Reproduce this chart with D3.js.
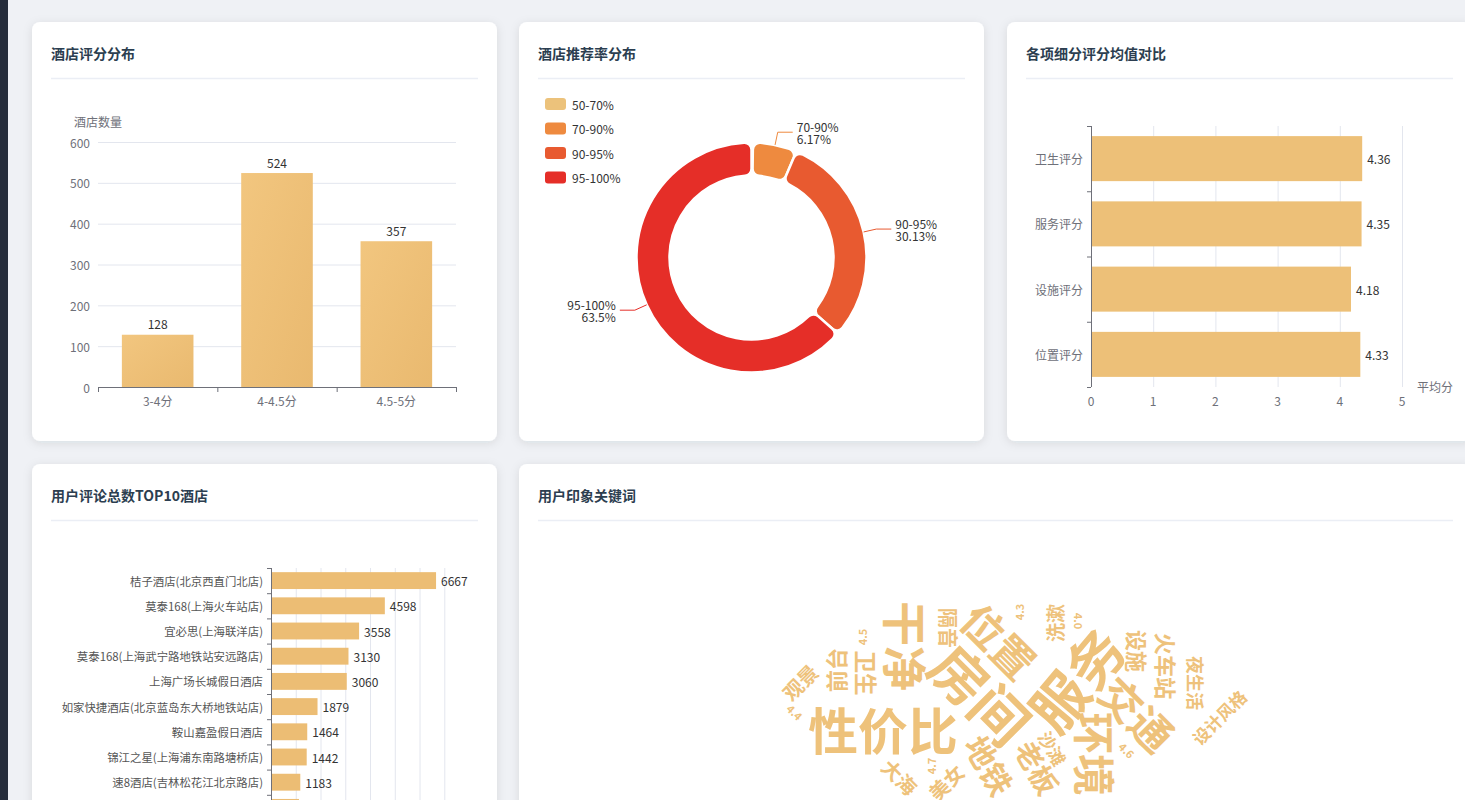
<!DOCTYPE html>
<html><head><meta charset="utf-8">
<script src="https://cdn.jsdelivr.net/npm/d3@7"></script>
<style>
html,body{margin:0;padding:0;background:#eff1f5;overflow:hidden;}
svg{display:block;font-family:"Noto Sans CJK SC","Noto Sans",sans-serif;}
</style></head>
<body><svg id="c" width="1465" height="800"></svg>
<script>
// ---------- data ----------
const scoreCats = ['3-4分','4-4.5分','4.5-5分'];
const scoreCounts = [128, 524, 357];
const scoreTicks = [0,100,200,300,400,500,600];

const recCats = ['50-70%','70-90%','90-95%','95-100%'];
const recPercents = [0.2, 6.17, 30.13, 63.5];
const recColors = ['#ecc27b','#ee8a3f','#e85a30','#e52e28'];

const subCats = ['卫生评分','服务评分','设施评分','位置评分'];
const subMeans = [4.36, 4.35, 4.18, 4.33];
const subTicks = [0,1,2,3,4,5];

const topHotels = ['桔子酒店(北京西直门北店)','莫泰168(上海火车站店)','宜必思(上海联洋店)','莫泰168(上海武宁路地铁站安远路店)','上海广场长城假日酒店','如家快捷酒店(北京蓝岛东大桥地铁站店)','鞍山嘉盈假日酒店','锦江之星(上海浦东南路塘桥店)','速8酒店(吉林松花江北京路店)','第10名酒店'];
const topReviews = [6667, 4598, 3558, 3130, 3060, 1879, 1464, 1442, 1183, 1130];
const topTicks = [0,1000,2000,3000,4000,5000,6000,7000];

const cloudWords = ['房间','服务','性价比','干净','位置','交通','环境','地铁','老板','卫生','前台','火车站','设施','隔音','观景','大海','美女','洗漱','沙滩','夜生活','设计风格','4.0','4.3','4.4','4.5','4.6','4.7'];
const cloudWeights = [300,300,260,230,210,210,210,140,120,85,82,82,75,68,68,68,68,62,55,55,49,10,10,10,10,10,10];
// word-cloud layout result (offset from cloud centre, rotation)
const cloudLayout = [
 [-28,-7,45],[65,-22,-50],[-127,28,0],[-104,-54,90],[-10,-60,45],[128,13,45],[86,54,90],
 [-20,65,60],[28,67,60],[-144,-27,90],[-175,-30,-90],[157,-34,90],[127,-49,90],[-62,-72,90],
 [-210,-18,-45],[-110,77,45],[-64,82,-45],[44,-77,-90],[43,48,60],[186,-17,90],[209,17,-45],
 [69,-79,90],[9,-88,-90],[-215,12,45],[-148,-63,-90],[117,50,45],[-79,66,-90]
];

// ---------- page ----------
const svg = d3.select('#c');
const defs = svg.append('defs');
const f = defs.append('filter').attr('id','sh').attr('x','-10%').attr('y','-10%').attr('width','120%').attr('height','120%');
f.append('feDropShadow').attr('dx',0).attr('dy',2).attr('stdDeviation',5).attr('flood-color','#1f2d3d').attr('flood-opacity',0.10);
const g1 = defs.append('linearGradient').attr('id','barG').attr('x1','0').attr('y1','0').attr('x2','1').attr('y2','1');
g1.append('stop').attr('offset','0%').attr('stop-color','#f2c67f');
g1.append('stop').attr('offset','100%').attr('stop-color','#e9b96f');

svg.append('rect').attr('width',1465).attr('height',800).attr('fill','#eff1f5');
svg.append('rect').attr('width',8).attr('height',800).attr('fill','#262d3b');

const cards = [
 {x:32,y:22,w:465,h:419,t:'酒店评分分布'},
 {x:519,y:22,w:465,h:419,t:'酒店推荐率分布'},
 {x:1007,y:22,w:465,h:419,t:'各项细分评分均值对比'},
 {x:32,y:464,w:465,h:420,t:'用户评论总数TOP10酒店'},
 {x:519,y:464,w:953,h:420,t:'用户印象关键词'}
];
cards.forEach(c=>{
  svg.append('rect').attr('x',c.x).attr('y',c.y).attr('width',c.w).attr('height',c.h)
    .attr('rx',8).attr('fill','#fff').attr('filter','url(#sh)');
  svg.append('text').attr('x',c.x+19).attr('y',c.y+31).attr('dominant-baseline','central')
    .attr('font-size',14).attr('font-weight',700).attr('fill','#2c3e50').text(c.t);
  svg.append('line').attr('x1',c.x+19).attr('x2',c.x+c.w-19).attr('y1',c.y+56.5).attr('y2',c.y+56.5)
    .attr('stroke','#ebeef5').attr('stroke-width',1.5);
});
const axisCol = '#6e7079', gridCol = '#e3e6ee';

// ---------- chart 1 ----------
(function(){
  const g = svg.append('g');
  const x = d3.scaleBand().domain(scoreCats).range([98,456]);
  const y = d3.scaleLinear().domain([0,600]).range([387,142]);
  g.selectAll('.gl').data(scoreTicks.slice(1)).join('line')
    .attr('x1',98).attr('x2',456).attr('y1',d=>y(d)+0.5).attr('y2',d=>y(d)+0.5).attr('stroke',gridCol);
  g.selectAll('.yl').data(scoreTicks).join('text').attr('x',90).attr('y',d=>y(d))
    .attr('text-anchor','end').attr('dominant-baseline','central').attr('font-size',12).attr('fill',axisCol).text(d=>d);
  const bw = x.bandwidth()*0.6;
  g.selectAll('.b').data(scoreCats).join('rect').attr('x',d=>x(d)+(x.bandwidth()-bw)/2).attr('width',bw)
    .attr('y',(d,i)=>y(scoreCounts[i])).attr('height',(d,i)=>y(0)-y(scoreCounts[i])).attr('fill','url(#barG)');
  g.selectAll('.v').data(scoreCats).join('text').attr('x',d=>x(d)+x.bandwidth()/2).attr('y',(d,i)=>y(scoreCounts[i])-11)
    .attr('text-anchor','middle').attr('dominant-baseline','central').attr('font-size',12).attr('fill','#333')
    .text((d,i)=>scoreCounts[i]);
  g.append('line').attr('x1',98).attr('x2',456).attr('y1',387.5).attr('y2',387.5).attr('stroke',axisCol);
  const bounds = scoreCats.map(d=>x(d)).concat([456]);
  g.selectAll('.tk').data(bounds).join('line').attr('x1',d=>d+0.5).attr('x2',d=>d+0.5).attr('y1',387).attr('y2',392).attr('stroke',axisCol);
  g.selectAll('.xl').data(scoreCats).join('text').attr('x',d=>x(d)+x.bandwidth()/2).attr('y',400)
    .attr('text-anchor','middle').attr('dominant-baseline','central').attr('font-size',12).attr('fill',axisCol).text(d=>d);
  g.append('text').attr('x',98).attr('y',121).attr('text-anchor','middle').attr('dominant-baseline','central')
    .attr('font-size',12).attr('fill',axisCol).text('酒店数量');
})();

// ---------- chart 2 ----------
(function(){
  const g = svg.append('g');
  const cx = 751.5, cy = 257.5, r0 = 82, r1 = 115;
  recCats.forEach((c,i)=>{
    g.append('rect').attr('x',545).attr('y',98+i*24.5).attr('width',21).attr('height',12).attr('rx',3).attr('fill',recColors[i]);
    g.append('text').attr('x',572).attr('y',104+i*24.5).attr('dominant-baseline','central').attr('font-size',12).attr('fill','#333').text(c);
  });
  const pie = d3.pie().sort(null).value(d=>d)(recPercents);
  const arc = d3.arc().innerRadius(r0).outerRadius(r1).cornerRadius(7);
  const pg = g.append('g').attr('transform',`translate(${cx},${cy})`);
  pg.selectAll('path').data(pie).join('path').attr('d',arc).attr('fill',(d,i)=>recColors[i])
    .attr('stroke','#fff').attr('stroke-width',2.5);
  pie.forEach((d,i)=>{
    if (recPercents[i] < 1) return;
    const a = (d.startAngle+d.endAngle)/2;
    const p0 = [Math.sin(a)*r1, -Math.cos(a)*r1];
    const p1 = [Math.sin(a)*(r1+13), -Math.cos(a)*(r1+13)];
    const right = Math.sin(a) >= 0;
    const p2 = [p1[0] + (right?15:-15), p1[1]];
    pg.append('polyline').attr('points',[p0,p1,p2].map(p=>p.join(',')).join(' '))
      .attr('fill','none').attr('stroke',recColors[i]).attr('stroke-width',1);
    const t = pg.append('text').attr('font-size',12).attr('fill','#333').attr('text-anchor',right?'start':'end');
    t.append('tspan').attr('x',p2[0]+(right?4:-4)).attr('y',p2[1]-6).attr('dominant-baseline','central').text(recCats[i]);
    t.append('tspan').attr('x',p2[0]+(right?4:-4)).attr('y',p2[1]+6).attr('dominant-baseline','central').text(recPercents[i]+'%');
  });
})();

// ---------- chart 3 ----------
(function(){
  const g = svg.append('g');
  const x = d3.scaleLinear().domain([0,5]).range([1091,1402]);
  const y = d3.scaleBand().domain(subCats).range([126,387]);
  g.selectAll('.gl').data(subTicks.slice(1)).join('line').attr('x1',d=>x(d)+0.5).attr('x2',d=>x(d)+0.5)
    .attr('y1',126).attr('y2',387).attr('stroke',gridCol);
  const bh = y.bandwidth()*0.69;
  g.selectAll('.b').data(subCats).join('rect').attr('x',x(0)).attr('y',d=>y(d)+(y.bandwidth()-bh)/2)
    .attr('height',bh).attr('width',(d,i)=>x(subMeans[i])-x(0)).attr('fill','#edc078');
  g.selectAll('.v').data(subCats).join('text').attr('x',(d,i)=>x(subMeans[i])+5).attr('y',d=>y(d)+y.bandwidth()/2)
    .attr('dominant-baseline','central').attr('font-size',12).attr('fill','#333').text((d,i)=>subMeans[i].toFixed(2));
  g.append('line').attr('x1',1091.5).attr('x2',1091.5).attr('y1',126).attr('y2',387).attr('stroke',axisCol);
  const bounds = subCats.map(d=>y(d)).concat([387]);
  g.selectAll('.tk').data(bounds).join('line').attr('x1',1087).attr('x2',1091).attr('y1',d=>d+0.5).attr('y2',d=>d+0.5).attr('stroke',axisCol);
  g.selectAll('.yl').data(subCats).join('text').attr('x',1083).attr('y',d=>y(d)+y.bandwidth()/2)
    .attr('text-anchor','end').attr('dominant-baseline','central').attr('font-size',12).attr('fill',axisCol).text(d=>d);
  g.selectAll('.xl').data(subTicks).join('text').attr('x',d=>x(d)).attr('y',400)
    .attr('text-anchor','middle').attr('dominant-baseline','central').attr('font-size',12).attr('fill',axisCol).text(d=>d);
  g.append('text').attr('x',1417).attr('y',386).attr('dominant-baseline','central').attr('font-size',12).attr('fill',axisCol).text('平均分');
})();

// ---------- chart 4 ----------
(function(){
  const g = svg.append('g');
  const x = d3.scaleLinear().domain([0,7000]).range([271,444.3]);
  const y = d3.scaleBand().domain(topHotels).range([568,820]);
  g.selectAll('.gl').data(topTicks.slice(1)).join('line').attr('x1',d=>x(d)+0.5).attr('x2',d=>x(d)+0.5)
    .attr('y1',568).attr('y2',820).attr('stroke',gridCol);
  const bh = y.bandwidth()*0.67;
  g.selectAll('.b').data(topHotels).join('rect').attr('x',x(0)).attr('y',d=>y(d)+(y.bandwidth()-bh)/2)
    .attr('height',bh).attr('width',(d,i)=>x(topReviews[i])-x(0)).attr('fill','#ecbd74');
  g.selectAll('.v').data(topHotels).join('text').attr('x',(d,i)=>x(topReviews[i])+5).attr('y',d=>y(d)+y.bandwidth()/2)
    .attr('dominant-baseline','central').attr('font-size',12).attr('fill','#333').text((d,i)=>topReviews[i]);
  g.append('line').attr('x1',271.5).attr('x2',271.5).attr('y1',568).attr('y2',820).attr('stroke',axisCol);
  const bounds = topHotels.map(d=>y(d)).concat([820]);
  g.selectAll('.tk').data(bounds).join('line').attr('x1',267).attr('x2',271).attr('y1',d=>d+0.5).attr('y2',d=>d+0.5).attr('stroke',axisCol);
  g.selectAll('.yl').data(topHotels).join('text').attr('x',263).attr('y',d=>y(d)+y.bandwidth()/2)
    .attr('text-anchor','end').attr('dominant-baseline','central').attr('font-size',11.4).attr('fill','#555').text(d=>d);
})();

// ---------- chart 5 (word cloud) ----------
(function(){
  const cx = 1010, cy = 700;
  const size = d3.scaleLinear().domain([10,300]).range([11,56]);
  const g = svg.append('g').attr('transform',`translate(${cx},${cy})`);
  g.selectAll('text').data(cloudWords).join('text')
    .attr('transform',(d,i)=>`translate(${cloudLayout[i][0]},${cloudLayout[i][1]}) rotate(${cloudLayout[i][2]})`)
    .attr('text-anchor','middle').attr('dominant-baseline','central')
    .attr('font-size',(d,i)=>size(cloudWeights[i])).attr('font-weight',700).attr('fill','#eec27b')
    .text(d=>d);
})();
</script></body></html>
